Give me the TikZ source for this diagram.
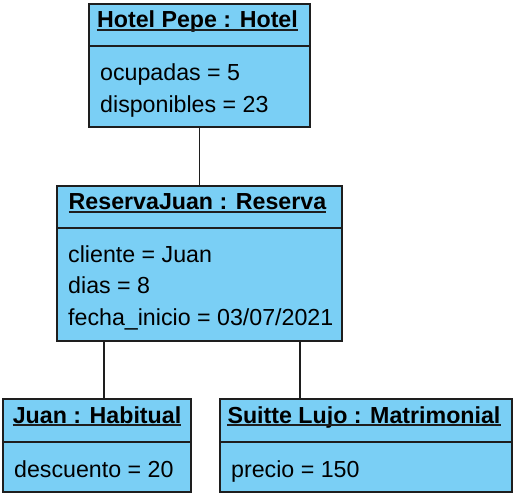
\documentclass[tikz,border=0pt]{standalone}
\usepackage{fontspec}
\setmainfont{Liberation Sans}
\usetikzlibrary{positioning}
\definecolor{objblue}{RGB}{122,207,245}
\definecolor{objline}{RGB}{30,30,30}
\tikzstyle{head} = [draw=objline, fill=objblue, line width=1.4pt, anchor=north west, inner sep=0pt, outer sep=0pt, minimum height=42pt]
\tikzstyle{body} = [draw=objline, fill=objblue, line width=1.4pt, below=0pt, inner sep=0pt, outer sep=0pt]
\tikzstyle{title} = [inner sep=0pt, anchor=base, font=\fontsize{23.2}{28}\selectfont\bfseries]
\tikzstyle{attr} = [inner sep=0pt, anchor=base west, font=\fontsize{23.2}{28}\selectfont]
\tikzstyle{uline} = [line width=1.4pt, objline]
\tikzstyle{link} = [line width=1.6pt, objline]

\begin{document}
\begin{tikzpicture}[x=1pt, y=-1pt]
        \useasboundingbox (0,0) rectangle (517,497);
        % Hotel object
        \node[head, minimum width=221pt] (hotel) at (89,4) {};
        \node[body, minimum width=221pt, minimum height=81pt, below=0pt of hotel] (hotelB) {};
        \node[title] (hotelT) at ([xshift=-2pt,yshift=-24pt]hotel.north) {Hotel Pepe : Hotel};
        \node[attr] (hotelA1) at ([xshift=11pt,yshift=-35pt]hotelB.north west) {ocupadas = 5};
        \node[attr] (hotelA2) at ([xshift=11pt,yshift=-66.5pt]hotelB.north west) {disponibles = 23};

        % Reserva object
        \node[head, minimum width=285pt] (res) at (57,186) {};
        \node[body, minimum width=285pt, minimum height=113pt, below=0pt of res] (resB) {};
        \node[title] (resT) at ([xshift=-2pt,yshift=-24pt]res.north) {ReservaJuan : Reserva};
        \node[attr] (resA1) at ([xshift=11pt,yshift=-34pt]resB.north west) {cliente = Juan};
        \node[attr] (resA2) at ([xshift=11pt,yshift=-65.5pt]resB.north west) {dias = 8};
        \node[attr] (resA3) at ([xshift=11pt,yshift=-97pt]resB.north west) {fecha\_inicio = 03/07/2021};

        % Habitual object
        \node[head, minimum width=188pt, minimum height=43pt] (juan) at (3,399) {};
        \node[body, minimum width=188pt, minimum height=50pt, below=0pt of juan] (juanB) {};
        \node[title] (juanT) at ([yshift=-24pt]juan.north) {Juan : Habitual};
        \node[attr] (juanA1) at ([xshift=11pt,yshift=-35pt]juanB.north west) {descuento = 20};

        % Matrimonial object
        \node[head, minimum width=292pt, minimum height=43pt] (suite) at (220,399) {};
        \node[body, minimum width=292pt, minimum height=50pt, below=0pt of suite] (suiteB) {};
        \node[title] (suiteT) at ([xshift=-2pt,yshift=-24pt]suite.north) {Suitte Lujo : Matrimonial};
        \node[attr] (suiteA1) at ([xshift=11pt,yshift=-35pt]suiteB.north west) {precio = 150};

        % underlined names
        \draw[uline] ([yshift=-2pt]hotelT.base west) -- ([yshift=-2pt]hotelT.base east);
        \draw[uline] ([yshift=-2pt]resT.base west) -- ([yshift=-2pt]resT.base east);
        \draw[uline] ([yshift=-2pt]juanT.base west) -- ([yshift=-2pt]juanT.base east);
        \draw[uline] ([yshift=-2pt]suiteT.base west) -- ([yshift=-2pt]suiteT.base east);

        % links
        \coordinate (jx) at (104,0);
        \coordinate (sx) at (300,0);
        \draw[link] (hotelB) -- (res);
        \draw[link] (resB.south -| jx) -- (juan.north -| jx);
        \draw[link] (resB.south -| sx) -- (suite.north -| sx);
\end{tikzpicture}
\end{document}
